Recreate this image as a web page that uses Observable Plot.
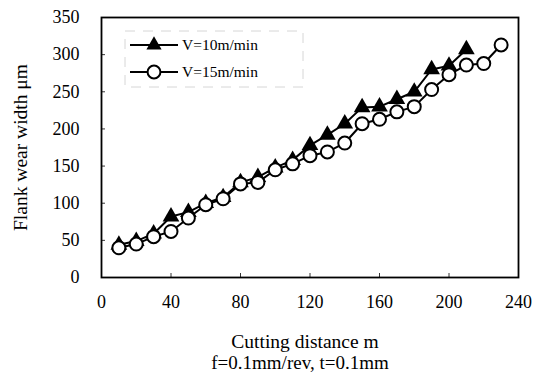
<!DOCTYPE html>
<html>
<head>
<meta charset="utf-8">
<script src="https://cdn.jsdelivr.net/npm/d3@7"></script>
<script src="https://cdn.jsdelivr.net/npm/@observablehq/plot@0.6"></script>
<style>
  body { margin: 0; background: #fff; }
  #wrap { position: relative; width: 533px; height: 378px; }
  #legend { position: absolute; left: 0; top: 0; }
</style>
</head>
<body>
<div id="wrap"></div>
<script>
const xTicks = [0, 40, 80, 120, 160, 200, 240];
const yTicks = [0, 50, 100, 150, 200, 250, 300, 350];

const dist10 = [10,20,30,40,50,60,70,80,90,100,110,120,130,140,150,160,170,180,190,200,210];
const wear10 = [44,49,59,82,88,100,108,128,135,148,158,178,192,207,229,230,240,250,280,285,307];

const dist15 = [10,20,30,40,50,60,70,80,90,100,110,120,130,140,150,160,170,180,190,200,210,220,230];
const wear15 = [40,45,55,62,80,98,106,126,128,145,153,164,169,181,207,213,223,230,253,273,286,288,313];

const seriesNames = ["V=10m/min", "V=15m/min"];
const xLabel = "Cutting distance m";
const xSubLabel = "f=0.1mm/rev, t=0.1mm";
const yLabel = "Flank wear width \u03bcm";

const s10 = dist10.map((d, i) => ({x: d, y: wear10[i]}));
const s15 = dist15.map((d, i) => ({x: d, y: wear15[i]}));

const font = "Liberation Serif, Times New Roman, serif";

const chart = Plot.plot({
  width: 533,
  height: 378,
  marginLeft: 101,
  marginRight: 15,
  marginTop: 17,
  marginBottom: 101,
  style: {fontFamily: font, fontSize: "18px", color: "#000", background: "#fff"},
  x: {domain: [0, 240], ticks: xTicks},
  y: {domain: [0, 350], ticks: yTicks},
  marks: [
    Plot.axisX({ticks: xTicks, tickSize: 0, tickPadding: 18, label: null, fontSize: 18}),
    Plot.axisX({ticks: xTicks, tickSize: -4, text: null, label: null, strokeWidth: 0.8}),
    Plot.axisY({ticks: yTicks, tickSize: 0, tickPadding: 22, label: null, fontSize: 18}),
    Plot.axisY({ticks: yTicks, tickSize: -4, text: null, label: null, strokeWidth: 0.8}),
    Plot.frame({stroke: "#000", strokeWidth: 1.8}),
    Plot.line(s10, {x: "x", y: "y", stroke: "#000", strokeWidth: 2}),
    Plot.line(s15, {x: "x", y: "y", stroke: "#000", strokeWidth: 2}),
    Plot.dot(s10, {x: "x", y: "y", symbol: "triangle", fill: "#000", r: 6.2}),
    Plot.dot(s15, {x: "x", y: "y", symbol: "circle", fill: "#fff", stroke: "#000", strokeWidth: 2, r: 6.5}),
    Plot.text([xLabel], {frameAnchor: "bottom", dx: -5, dy: 70, text: d => d, fontSize: 19.5, fill: "#000"}),
    Plot.text([xSubLabel], {frameAnchor: "bottom", dx: -10, dy: 91, text: d => d, fontSize: 19, fill: "#000"}),
    Plot.text([yLabel], {frameAnchor: "left", textAnchor: "middle", dx: -81, rotate: -90, text: d => d, fontSize: 19.5, fill: "#000"})
  ]
});

const wrap = document.getElementById("wrap");
wrap.appendChild(chart);

// legend overlay
const ns = "http://www.w3.org/2000/svg";
const lg = document.createElementNS(ns, "svg");
lg.setAttribute("id", "legend");
lg.setAttribute("width", 533);
lg.setAttribute("height", 378);
const items = [
  {name: seriesNames[0], sym: "triangle", y: 45},
  {name: seriesNames[1], sym: "circle", y: 72}
];
const box = document.createElementNS(ns, "rect");
box.setAttribute("x", 125); box.setAttribute("y", 31);
box.setAttribute("width", 178); box.setAttribute("height", 56);
box.setAttribute("fill", "none"); box.setAttribute("stroke", "#ccc");
box.setAttribute("stroke-width", 0.8); box.setAttribute("stroke-dasharray", "10,8");
lg.appendChild(box);
for (const it of items) {
  const ln = document.createElementNS(ns, "line");
  ln.setAttribute("x1", 130); ln.setAttribute("x2", 178);
  ln.setAttribute("y1", it.y); ln.setAttribute("y2", it.y);
  ln.setAttribute("stroke", "#000"); ln.setAttribute("stroke-width", 2);
  lg.appendChild(ln);
  const p = document.createElementNS(ns, "path");
  p.setAttribute("transform", `translate(154,${it.y})`);
  p.setAttribute("d", d3.symbol(it.sym === "triangle" ? d3.symbolTriangle : d3.symbolCircle, it.sym === "triangle" ? 100 : 130)());
  p.setAttribute("fill", it.sym === "triangle" ? "#000" : "#fff");
  p.setAttribute("stroke", "#000");
  p.setAttribute("stroke-width", it.sym === "triangle" ? 0 : 2);
  lg.appendChild(p);
  const t = document.createElementNS(ns, "text");
  t.setAttribute("x", 182); t.setAttribute("y", it.y);
  t.setAttribute("dy", "0.35em");
  t.setAttribute("font-family", font);
  t.setAttribute("font-size", 15.5);
  t.textContent = it.name;
  lg.appendChild(t);
}
wrap.appendChild(lg);
</script>
</body>
</html>
